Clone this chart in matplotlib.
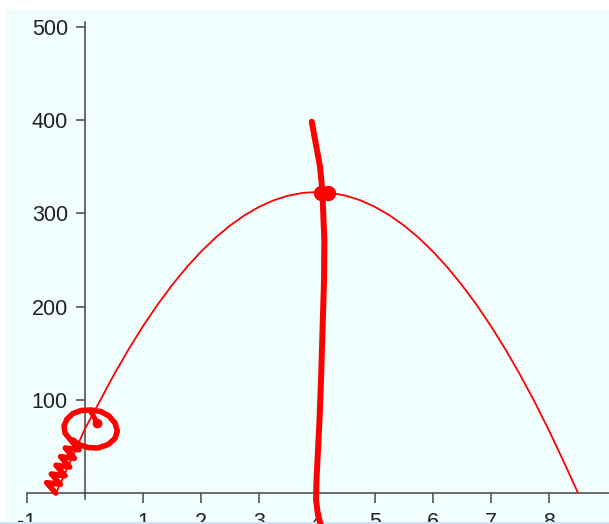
import matplotlib.pyplot as plt
from matplotlib.patches import Rectangle

plt.rcParams['font.family'] = ['Liberation Sans', 'DejaVu Sans']

# curve
curve_x = [-0.5, -0.25, 0, 0.25, 0.5, 0.75, 1, 1.25, 1.5, 1.75, 2, 2.25, 2.5, 2.75,
           3, 3.25, 3.5, 3.75, 4, 4.25, 4.5, 4.75, 5, 5.25, 5.5, 5.75, 6, 6.25,
           6.5, 6.75, 7, 7.25, 7.5, 7.75, 8, 8.25, 8.5]
curve_y = [0, 34, 69, 98, 127, 154, 179, 202, 223, 242, 259, 274, 287, 298,
           307, 314, 319, 322, 323, 322, 319, 314, 307, 298, 287, 274, 259, 242,
           223, 202, 179, 154, 127, 98, 67, 34, 0]

x_ticks = [-1, 1, 2, 3, 4, 5, 6, 7, 8]
x_tick_labels = ["-1", "1", "2", "3", "4", "5", "6", "7", "8"]
y_ticks = [100, 200, 300, 400, 500]
y_tick_labels = ["100", "200", "300", "400", "500"]

# hand drawn red marks on top of the chart
vstroke_x = [3.909, 3.983, 4.052, 4.091, 4.126, 4.121, 4.095, 4.069, 4.043,
             4.017, 3.991, 3.983, 4.017, 4.069]
vstroke_y = [398.4, 373.4, 350.1, 325.1, 271.5, 228.5, 174.9, 121.2, 78.3,
             46.1, 13.9, -7.5, -23.6, -35.4]
peak_dot_x = [4.069, 4.19]
peak_dot_y = [321.4, 321.4]
scribble_x = [-0.505, -0.662, -0.424, -0.581, -0.345, -0.500, -0.264, -0.421,
              -0.183, -0.340, -0.103, -0.259,
              -0.345, -0.362, -0.310, -0.207, -0.069, 0.103, 0.276, 0.414,
              0.517, 0.557, 0.517, 0.397, 0.224, 0.052, -0.103, -0.207]
scribble_y = [-0.05, 11.1, 9.3, 20.4, 18.5, 29.8, 27.8, 39.0, 37.2, 48.3, 46.4,
              57.7,
              64.4, 71.9, 79.4, 85.3, 88.5, 89.1, 87.4, 82.6,
              75.1, 66.5, 58.5, 52.0, 48.3, 48.8, 52.0, 56.9]
tail_x = [0.103, 0.155, 0.207]
tail_y = [86.9, 81.5, 75.1]

fig = plt.figure(figsize=(6.09, 5.24), dpi=100, facecolor='white')
fig.patches.append(Rectangle((6 / 609, 0), 1, 514 / 524, transform=fig.transFigure,
                             facecolor='#f0fffe', edgecolor='none', zorder=-1))

ax = fig.add_axes([27 / 609, 31 / 524, 582 / 609, 471 / 524])
ax.set_facecolor('none')
ax.set_xlim(-1, 9.034)
ax.set_ylim(0, 505.4)

ax.plot(curve_x, curve_y, color='red', lw=1.3, zorder=3)

ax.spines['top'].set_visible(False)
ax.spines['right'].set_visible(False)
ax.spines['left'].set_position(('data', 0))
for s in ['left', 'bottom']:
    ax.spines[s].set_color('#444444')
    ax.spines[s].set_linewidth(1.1)
ax.plot([0, 0], [0, -6.4], color='#444444', lw=1.1, clip_on=False)

ax.set_xticks(x_ticks)
ax.set_xticklabels(x_tick_labels)
ax.set_yticks(y_ticks)
ax.set_yticklabels(y_tick_labels)
ax.tick_params(axis='x', direction='out', length=7.5, width=1.1, color='#444444',
               pad=6.5, labelsize=15.5, labelcolor='#222222')
ax.tick_params(axis='y', direction='out', length=6.5, width=1.1, color='#444444',
               pad=5.8, labelsize=15.5, labelcolor='#222222')

# light blue strip at the very bottom
ax.add_patch(Rectangle((0, 0), 1, 2.3 / 524, transform=fig.transFigure,
                       facecolor='#cde3f7', edgecolor='none', zorder=3.5, clip_on=False))

ax.plot(vstroke_x, vstroke_y, color='red', lw=4.3, solid_capstyle='round',
        solid_joinstyle='round', clip_on=False, zorder=5)
ax.plot(peak_dot_x, peak_dot_y, 'o', color='red', ms=10, clip_on=False, zorder=5)
ax.plot(scribble_x, scribble_y, color='red', lw=4.0, solid_capstyle='round',
        solid_joinstyle='round', clip_on=False, zorder=5)
ax.plot(tail_x, tail_y, color='red', lw=3.6, solid_capstyle='round', clip_on=False, zorder=5)
ax.plot(tail_x[-1:], tail_y[-1:], 'o', color='red', ms=6, clip_on=False, zorder=5)

fig.savefig('out.png', dpi=100, facecolor='white')
